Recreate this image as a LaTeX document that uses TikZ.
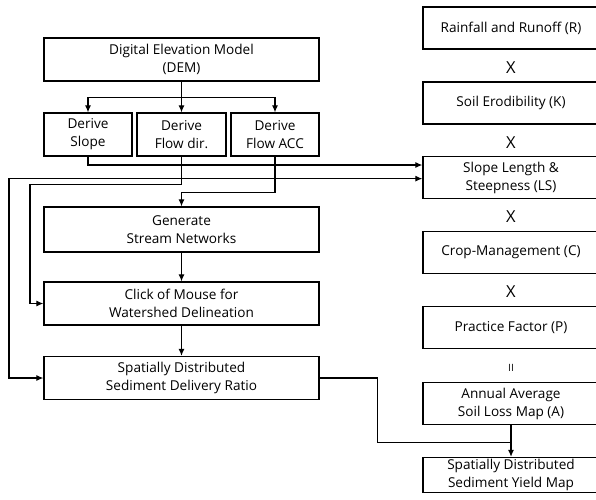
\documentclass[tikz,border=0pt]{standalone}
\usepackage{fontspec}
\setmainfont{Open Sans}
\usetikzlibrary{positioning, calc, arrows.meta}

\tikzset{
  box/.style={draw, line width=1.3pt, align=center, inner sep=0pt,
    font=\fontsize{13.6}{18}\selectfont},
  wide/.style={box, minimum width=275pt, minimum height=43pt},
  derive/.style={box, minimum width=88pt, minimum height=43pt},
  factor/.style={box, minimum width=176pt, minimum height=42pt},
  conn/.style={line width=1.1pt},
  arr/.style={conn, -{Latex[length=7pt,width=6pt]}},
  opsign/.style={inner sep=0pt, font=\fontsize{16.5}{16.5}\selectfont},
  eqsign/.style={inner sep=0pt, font=\fontsize{10}{10}\selectfont},
}

\begin{document}
\begin{tikzpicture}[x=1pt,y=-1pt]
\useasboundingbox (0,0) rectangle (596,499);
\clip (0,0) rectangle (596,499);

% left column: DEM processing
\node[wide] (dem) at (181.5,59.5) {Digital Elevation Model\\(DEM)};
\node[derive] (slope) at (88,134.5) {Derive\\Slope};
\node[derive, minimum width=89pt] (flowdir) at (181.5,134.5) {Derive\\Flow dir.};
\node[derive] (flowacc) at (275,134.5) {Derive\\Flow ACC};
\node[wide, minimum height=45pt] (gen) at (181.5,229.5) {Generate\\Stream Networks};
\node[wide] (click) at (181.5,303.5) {Click of Mouse for\\Watershed Delineation};
\node[wide] (sdr) at (181.5,378) {Spatially Distributed\\Sediment Delivery Ratio};

% right column: USLE factors
\foreach \name/\y/\txt in {rain/28/{Rainfall and Runoff (R)},
    erod/103/{Soil Erodibility (K)},
    ls/177.5/{Slope Length \&\\Steepness (LS)},
    crop/252.5/{Crop-Management (C)},
    prac/327.5/{Practice Factor (P)},
    annual/403.5/{Annual Average\\Soil Loss Map (A)}}
{
\node[factor] (\name) at (511,\y) {\txt};
}
\node[factor, minimum height=35pt] (yield) at (511,475) {Spatially Distributed\\Sediment Yield Map};

\foreach \a/\b in {rain/erod, erod/ls, ls/crop, crop/prac}
  \node[opsign] (x-\a) at ($(\a.south)!0.5!(\b.north)+(0,2)$) {X};
\node[eqsign] (eq) at ($(prac.south)!0.5!(annual.north)+(0,2)$) {II};

% connectors
\draw[conn] (dem.south) -- ++(0,16) coordinate (split);
\foreach \b in {slope, flowdir, flowacc}
  \draw[arr] (split) -| (\b.north);

\draw[arr] (slope.south) |- ([yshift=12.5pt]ls.west);

\draw[conn] (flowacc.south) -- ++(0,22) coordinate (accj);
\draw[arr] (flowacc.south) -- ++(0,36) -| (gen.north);
\draw[arr] (accj) -- (ls.west |- accj);
\draw[arr] (accj) -- ++(-266,0) |- (sdr.west);

\draw[arr] (flowdir.south) -- ++(0,28) -- ++(-151.5,0) |- (click.west);

\draw[arr] (gen) -- (click);
\draw[arr] (click) -- (sdr);

\coordinate (yj) at ($(annual.south)+(0,17)$);
\draw[conn] (sdr.east) -- ++(58,0) |- (yj);
\draw[arr] (annual.south) -- (yield.north);
\end{tikzpicture}
\end{document}
